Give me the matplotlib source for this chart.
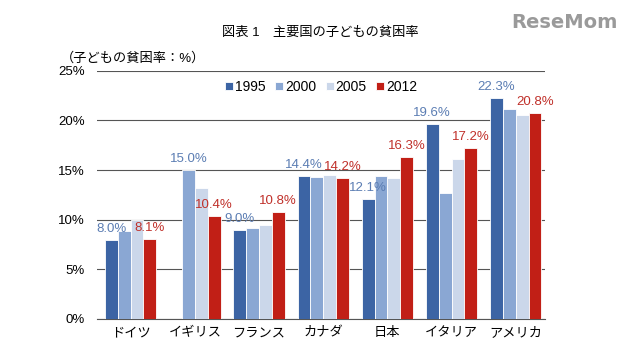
import numpy as np
import matplotlib.pyplot as plt

plt.rcParams['font.family'] = ['Liberation Sans', 'Noto Sans CJK JP', 'DejaVu Sans']

countries = ["ドイツ", "イギリス", "フランス", "カナダ", "日本", "イタリア", "アメリカ"]
years = ["1995", "2000", "2005", "2012"]
r1995 = [8.0, np.nan, 9.0, 14.4, 12.1, 19.6, 22.3]
r2000 = [8.9, 15.0, 9.2, 14.3, 14.4, 12.7, 21.2]
r2005 = [10.0, 13.2, 9.5, 14.5, 14.2, 16.1, 20.6]
r2012 = [8.1, 10.4, 10.8, 14.2, 16.3, 17.2, 20.8]

colors = ["#3c64a4", "#8aa7d3", "#cbd7ea", "#c11f16"]
label_blue = "#5b7db3"
label_red = "#c0302a"

fig = plt.figure(figsize=(6.4, 3.44), dpi=100)
ax = fig.add_axes([0.152, 0.073, 0.70, 0.721])

x = np.arange(len(countries))
w = 0.2
series = [r1995, r2000, r2005, r2012]
for i, (vals, c, yr) in enumerate(zip(series, colors, years)):
    ax.bar(x + (i - 1.5) * w, vals, w, color=c, edgecolor="white",
           linewidth=0.6, label=yr, zorder=3)

# value labels: first available year in blue, 2012 in red
for j in range(len(countries)):
    if not np.isnan(r1995[j]):
        ax.text(x[j] - 1.5 * w, r1995[j] + 0.5, f"{r1995[j]:.1f}%",
                ha="center", va="bottom", color=label_blue, fontsize=9.5)
    else:
        ax.text(x[j] - 0.5 * w, r2000[j] + 0.5, f"{r2000[j]:.1f}%",
                ha="center", va="bottom", color=label_blue, fontsize=9.5)
    ax.text(x[j] + 1.5 * w, r2012[j] + 0.5, f"{r2012[j]:.1f}%",
            ha="center", va="bottom", color=label_red, fontsize=9.5)

ax.set_ylim(0, 25)
ax.set_xlim(-0.52, 6.46)
ax.set_yticks(np.arange(0, 26, 5))
ax.set_yticklabels([f"{v}%" for v in range(0, 26, 5)])
ax.yaxis.grid(True, color="#555555", linewidth=0.8, zorder=0)
ax.set_xticks(x)
ax.set_xticklabels(countries)
ax.tick_params(axis="both", length=0, labelsize=9.5)
ax.tick_params(axis="y", pad=9)
ax.tick_params(axis="x", pad=6)
for s in ["left", "right", "top"]:
    ax.spines[s].set_visible(False)
ax.spines["bottom"].set_color("#555555")

ax.legend(loc="center", bbox_to_anchor=(0.5, 0.935), ncol=4, frameon=False,
          fontsize=10, handlelength=0.55, handleheight=0.55, handletextpad=0.15,
          columnspacing=0.7)

fig.text(0.5, 0.905, "図表 1　主要国の子どもの貧困率", ha="center", va="center",
         fontsize=9.5)
fig.text(0.095, 0.83, "（子どもの貧困率：%）", ha="left", va="center", fontsize=9.5)
fig.text(0.965, 0.935, "ReseMom", ha="right", va="center", fontsize=14,
         fontweight="bold", color="#9a9a9a", family="DejaVu Sans")

fig.savefig("out.png", dpi=100)
